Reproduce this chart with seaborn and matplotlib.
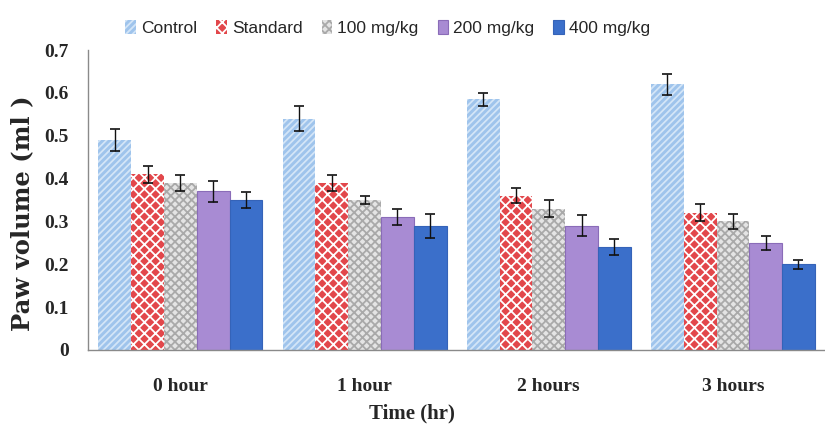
import numpy as np
import pandas as pd
import matplotlib
matplotlib.use("Agg")
import matplotlib.pyplot as plt
from matplotlib.patches import Patch
import seaborn as sns

times = ["0 hour", "1 hour", "2 hours", "3 hours"]
groups = ["Control", "Standard", "100 mg/kg", "200 mg/kg", "400 mg/kg"]

control = [0.49, 0.54, 0.585, 0.62]
standard = [0.41, 0.39, 0.36, 0.32]
dose_100 = [0.39, 0.35, 0.33, 0.30]
dose_200 = [0.37, 0.31, 0.29, 0.25]
dose_400 = [0.35, 0.29, 0.24, 0.20]

err_control = [0.025, 0.03, 0.015, 0.025]
err_standard = [0.02, 0.018, 0.018, 0.02]
err_100 = [0.018, 0.01, 0.02, 0.018]
err_200 = [0.025, 0.018, 0.025, 0.017]
err_400 = [0.018, 0.028, 0.018, 0.01]

yticks = [0, 0.1, 0.2, 0.3, 0.4, 0.5, 0.6, 0.7]
ytick_labels = ["0", "0.1", "0.2", "0.3", "0.4", "0.5", "0.6", "0.7"]

values = [control, standard, dose_100, dose_200, dose_400]
errors = [err_control, err_standard, err_100, err_200, err_400]

rows = []
for g, vals, errs in zip(groups, values, errors):
    for t, v, e in zip(times, vals, errs):
        rows.append({"Time": t, "Group": g, "Volume": v, "Err": e})
df = pd.DataFrame(rows)

sns.set_theme(style="white")
plt.rcParams["hatch.linewidth"] = 1.3

# face colour, hatch/edge colour, hatch pattern per group
styles = {
    "Control": ("#9fc4ec", "#d3e5f7", "/////"),
    "Standard": ("#e2474b", "#ffffff", "xxx"),
    "100 mg/kg": ("#e4e4e4", "#a9a9a9", "xxxx"),
    "200 mg/kg": ("#a88bd3", "#8a6cb8", None),
    "400 mg/kg": ("#3b6fca", "#3563b8", None),
}

fig = plt.figure(figsize=(8.25, 4.32), dpi=100)
ax = fig.add_axes([0.107, 0.19, 0.893, 0.694])

palette = {g: styles[g][0] for g in groups}
sns.barplot(data=df, x="Time", y="Volume", hue="Group", order=times,
            hue_order=groups, palette=palette, width=0.89, errorbar=None,
            saturation=1, ax=ax, legend=False)

for gi, g in enumerate(groups):
    face, edge, hatch = styles[g]
    bars = ax.containers[gi]
    sub = df[df["Group"] == g].set_index("Time").loc[times]
    for patch in bars:
        patch.set_facecolor(face)
        patch.set_edgecolor(edge)
        patch.set_linewidth(0 if hatch else 0.8)
        if hatch:
            patch.set_hatch(hatch)
    xs = [p.get_x() + p.get_width() / 2 for p in bars]
    ax.errorbar(xs, sub["Volume"].values, yerr=sub["Err"].values, fmt="none",
                ecolor="#111111", elinewidth=1.0, capsize=3.5, capthick=1.2,
                zorder=5)

ax.set_xlim(-0.5, 3.43)
ax.set_ylim(0, 0.7)
ax.set_yticks(yticks)
ax.set_yticklabels(ytick_labels)

serif = ["Liberation Serif", "DejaVu Serif"]
for lab in ax.get_yticklabels():
    lab.set_family(serif)
    lab.set_fontweight("bold")
    lab.set_fontsize(14)
for lab in ax.get_xticklabels():
    lab.set_family(serif)
    lab.set_fontweight("bold")
    lab.set_fontsize(14)

ax.set_xticks(np.arange(-0.5, 3.6, 1.0), minor=True)
ax.tick_params(axis="x", which="major", length=0, pad=20)
ax.tick_params(axis="x", which="minor", length=3, color="#aaaaaa")
ax.tick_params(axis="y", length=4, color="#888888", pad=10)

ax.set_ylabel("Paw volume (ml )", family=["DejaVu Serif"], fontweight="bold",
              fontsize=17.5)
ax.yaxis.set_label_coords(-0.073, 0.455)
ax.set_xlabel("Time (hr)", family=serif, fontweight="bold", fontsize=15)
ax.xaxis.set_label_coords(0.44, -0.18)

for side in ["top", "right"]:
    ax.spines[side].set_visible(False)
for side in ["left", "bottom"]:
    ax.spines[side].set_color("#8a8a8a")
    ax.spines[side].set_linewidth(1.0)

handles = []
for g in groups:
    face, edge, hatch = styles[g]
    handles.append(Patch(facecolor=face, edgecolor=edge, hatch=hatch,
                         linewidth=0 if hatch else 0.8, label=g))
fig.legend(handles=handles, loc="center", bbox_to_anchor=(0.47, 0.935),
           ncol=5, frameon=False, handlelength=0.6, handleheight=0.8,
           handletextpad=0.3, columnspacing=1.1,
           prop={"family": ["Liberation Sans"], "size": 12.5})

fig.savefig("out.png", dpi=100)
